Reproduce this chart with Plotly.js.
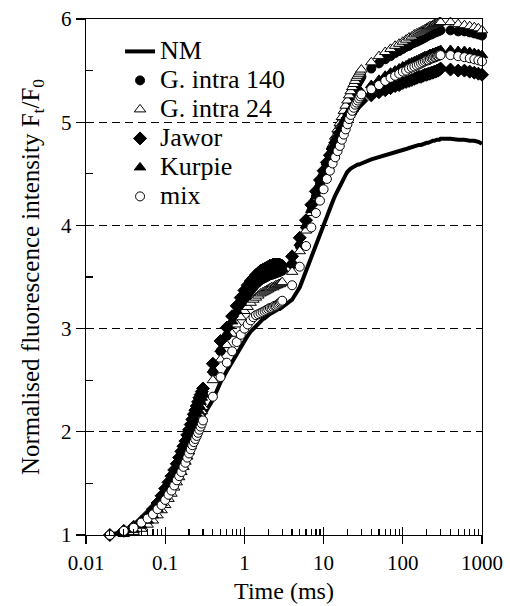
<!DOCTYPE html>
<html>
<head>
<meta charset="utf-8">
<script src="https://cdn.plot.ly/plotly-3.0.1.min.js"></script>
<style>html,body{margin:0;padding:0;background:#fff}</style>
</head>
<body>
<div id="chart" style="width:510px;height:606px"></div>
<script>
var time = [0.02,0.03,0.04,0.05,0.06,0.07,0.08,0.09,0.10,0.11,0.12,0.13,0.14,0.15,0.16,0.17,0.18,0.19,0.20,0.21,0.22,0.23,0.24,0.25,0.26,0.27,0.28,0.29,0.30,
  0.4,0.5,0.6,0.7,0.8,0.9,1.0,1.1,1.2,1.3,1.4,1.5,1.6,1.7,1.8,1.9,2.0,2.1,2.2,2.3,2.4,2.5,2.6,2.7,2.8,2.9,3.0,
  4,5,6,7,8,9,10,11,12,13,14,15,16,17,18,19,20,21,22,23,24,25,26,27,28,29,30,
  40,50,60,70,80,90,100,110,120,130,140,150,160,170,180,190,200,210,220,230,240,250,260,270,280,290,300,
  400,500,600,700,800,900,1000];
var seriesNames = ["NM","G. intra 140","G. intra 24","Jawor","Kurpie","mix"];
var nm = [1.00,1.03,1.06,1.10,1.14,1.19,1.24,1.29,1.34,1.39,1.44,1.49,1.54,1.59,1.64,1.68,1.73,1.77,1.81,1.85,1.89,1.93,1.96,2.00,2.03,2.06,2.09,2.12,2.15,
  2.31,2.48,2.59,2.68,2.76,2.82,2.88,2.93,2.97,3.00,3.03,3.05,3.07,3.09,3.10,3.12,3.13,3.14,3.15,3.16,3.17,3.17,3.18,3.19,3.19,3.20,3.21,
  3.28,3.40,3.56,3.70,3.83,3.93,4.02,4.10,4.17,4.23,4.29,4.34,4.38,4.42,4.46,4.49,4.52,4.54,4.55,4.56,4.57,4.58,4.58,4.59,4.59,4.60,4.60,
  4.64,4.66,4.68,4.69,4.71,4.72,4.73,4.74,4.75,4.76,4.77,4.77,4.78,4.78,4.79,4.79,4.80,4.80,4.81,4.81,4.82,4.82,4.83,4.83,4.83,4.83,4.84,
  4.84,4.83,4.83,4.82,4.82,4.81,4.79];
var gIntra140 = [1.00,1.03,1.07,1.11,1.16,1.22,1.28,1.34,1.40,1.46,1.52,1.58,1.64,1.69,1.75,1.80,1.85,1.90,1.95,2.00,2.05,2.10,2.14,2.18,2.22,2.26,2.30,2.34,2.37,
  2.58,2.78,2.93,3.05,3.14,3.22,3.28,3.33,3.37,3.40,3.43,3.45,3.47,3.48,3.49,3.50,3.51,3.52,3.52,3.53,3.53,3.54,3.54,3.55,3.55,3.56,3.56,
  3.62,3.80,3.98,4.14,4.28,4.40,4.51,4.60,4.68,4.76,4.83,4.89,4.95,5.00,5.05,5.10,5.14,5.18,5.22,5.26,5.29,5.32,5.35,5.38,5.40,5.42,5.44,
  5.52,5.57,5.61,5.64,5.67,5.69,5.71,5.73,5.74,5.76,5.77,5.78,5.79,5.80,5.81,5.82,5.83,5.84,5.85,5.85,5.86,5.87,5.87,5.88,5.88,5.89,5.89,
  5.89,5.88,5.88,5.87,5.86,5.85,5.84];
var gIntra24 = [0.99,1.01,1.03,1.06,1.10,1.14,1.19,1.24,1.29,1.35,1.40,1.46,1.51,1.56,1.61,1.66,1.71,1.76,1.81,1.86,1.91,1.95,2.00,2.04,2.08,2.12,2.16,2.20,2.24,
  2.50,2.70,2.84,2.95,3.04,3.11,3.17,3.21,3.25,3.28,3.30,3.32,3.34,3.35,3.36,3.37,3.38,3.39,3.40,3.40,3.41,3.42,3.42,3.43,3.43,3.44,3.45,
  3.55,3.75,3.95,4.12,4.27,4.40,4.51,4.61,4.70,4.78,4.86,4.93,4.99,5.05,5.11,5.16,5.21,5.26,5.30,5.34,5.37,5.40,5.43,5.45,5.47,5.49,5.51,
  5.58,5.64,5.68,5.71,5.74,5.76,5.78,5.80,5.82,5.83,5.85,5.86,5.87,5.88,5.89,5.90,5.91,5.92,5.93,5.93,5.94,5.95,5.95,5.96,5.96,5.97,5.97,
  5.97,5.95,5.94,5.93,5.92,5.91,5.89];
var jawor = [1.00,1.04,1.08,1.13,1.19,1.25,1.31,1.38,1.45,1.51,1.57,1.63,1.69,1.75,1.81,1.86,1.91,1.97,2.02,2.07,2.12,2.17,2.21,2.25,2.29,2.33,2.36,2.39,2.42,
  2.66,2.88,3.01,3.12,3.22,3.30,3.37,3.42,3.46,3.49,3.52,3.54,3.56,3.57,3.58,3.59,3.60,3.61,3.61,3.62,3.62,3.62,3.62,3.62,3.62,3.61,3.61,
  3.70,3.88,4.05,4.20,4.33,4.44,4.53,4.61,4.68,4.74,4.80,4.85,4.90,4.94,4.98,5.01,5.04,5.07,5.09,5.11,5.13,5.15,5.17,5.18,5.19,5.20,5.21,
  5.26,5.29,5.31,5.33,5.35,5.36,5.38,5.39,5.40,5.41,5.42,5.43,5.44,5.44,5.45,5.46,5.46,5.47,5.47,5.48,5.48,5.49,5.49,5.50,5.50,5.51,5.52,
  5.51,5.50,5.50,5.49,5.48,5.47,5.46];
var kurpie = [0.99,1.02,1.05,1.09,1.14,1.19,1.25,1.31,1.37,1.43,1.49,1.55,1.61,1.67,1.72,1.78,1.83,1.88,1.93,1.98,2.03,2.08,2.12,2.17,2.21,2.25,2.29,2.33,2.36,
  2.60,2.80,2.95,3.07,3.17,3.25,3.31,3.36,3.40,3.43,3.46,3.48,3.50,3.51,3.52,3.53,3.54,3.55,3.55,3.56,3.56,3.57,3.57,3.57,3.58,3.58,3.58,
  3.65,3.83,4.00,4.15,4.28,4.39,4.49,4.57,4.64,4.71,4.77,4.82,4.87,4.92,4.96,5.00,5.04,5.07,5.10,5.13,5.16,5.19,5.21,5.23,5.25,5.27,5.29,
  5.36,5.41,5.45,5.48,5.50,5.52,5.54,5.55,5.57,5.58,5.59,5.60,5.61,5.62,5.63,5.64,5.64,5.65,5.66,5.66,5.67,5.67,5.68,5.68,5.69,5.69,5.70,
  5.70,5.69,5.69,5.68,5.67,5.66,5.65];
var mix = [1.00,1.04,1.07,1.12,1.16,1.20,1.25,1.29,1.34,1.39,1.43,1.48,1.53,1.57,1.61,1.66,1.70,1.75,1.79,1.83,1.87,1.90,1.93,1.96,1.99,2.02,2.05,2.08,2.11,
  2.34,2.53,2.67,2.78,2.87,2.94,3.00,3.04,3.08,3.11,3.13,3.14,3.15,3.16,3.17,3.18,3.19,3.20,3.20,3.21,3.22,3.22,3.23,3.24,3.25,3.26,3.27,
  3.42,3.60,3.80,3.98,4.12,4.24,4.35,4.45,4.53,4.60,4.66,4.72,4.77,4.83,4.88,4.93,4.98,5.03,5.07,5.11,5.14,5.17,5.19,5.21,5.23,5.25,5.27,
  5.32,5.36,5.40,5.43,5.45,5.47,5.49,5.50,5.52,5.53,5.54,5.55,5.56,5.57,5.58,5.59,5.60,5.60,5.61,5.62,5.62,5.63,5.63,5.64,5.64,5.65,5.65,
  5.65,5.64,5.63,5.62,5.61,5.60,5.59];

var xTickVals = [0.01,0.1,1,10,100,1000];
var xTickText = ["0.01","0.1","1","10","100","1000"];
var yTickVals = [1,2,3,4,5,6];
var yTickText = ["1","2","3","4","5","6"];
var yMinorVals = [1.5,2.5,3.5,4.5,5.5];
var xMinorVals = [];
[0.01,0.1,1,10,100].forEach(function(d){ for (var k=2;k<=9;k++) xMinorVals.push(+(k*d).toPrecision(3)); });

var FONT = "Tinos";
function lg(s){ return '<span style="font-size:26px">' + s + '</span>'; }

var traces = [
  {x: time, y: nm, name: lg(seriesNames[0]), mode: "lines", line: {color: "#000", width: 4}, cliponaxis: false},
  {x: time, y: gIntra140, name: lg(seriesNames[1]), mode: "markers", cliponaxis: false,
   marker: {symbol: "circle", size: 9, color: "#000", line: {color: "#000", width: 1}}},
  {x: time, y: gIntra24, name: lg(seriesNames[2]), mode: "markers", cliponaxis: false,
   marker: {symbol: "triangle-up", size: 10, color: "#fff", line: {color: "#000", width: 1}}},
  {x: time, y: jawor, name: lg(seriesNames[3]), mode: "markers", cliponaxis: false,
   marker: {symbol: "diamond", size: 10, color: "#000", line: {color: "#000", width: 1}}},
  {x: time, y: kurpie, name: lg(seriesNames[4]), mode: "markers", cliponaxis: false,
   marker: {symbol: "triangle-up", size: 10, color: "#000", line: {color: "#000", width: 1}}},
  {x: time, y: mix, name: lg(seriesNames[5]), mode: "markers", cliponaxis: false,
   marker: {symbol: "circle", size: 9, color: "#fff", line: {color: "#000", width: 1}}},
  {x: [], y: [], xaxis: "x2", yaxis: "y2", mode: "markers", showlegend: false, hoverinfo: "skip"},
  {x: [], y: [], xaxis: "x3", yaxis: "y3", mode: "markers", showlegend: false, hoverinfo: "skip"}
];

var tickAxisBase = {showline: false, showgrid: false, zeroline: false, showticklabels: false,
  tickcolor: "#000", tickwidth: 1.2, fixedrange: true};

var layout = {
  width: 510, height: 606,
  margin: {l: 86, r: 28, t: 19, b: 71, pad: 0},
  paper_bgcolor: "#fff", plot_bgcolor: "#fff",
  font: {family: FONT, color: "#000"},
  showlegend: true,
  legend: {x: 0.086, xanchor: "left", y: 0.975, yanchor: "top", bgcolor: "rgba(0,0,0,0)",
    font: {family: FONT, size: 20, color: "#000"}, tracegroupgap: 0},
  xaxis: {type: "log", range: [-2, 3], tickmode: "array", tickvals: xTickVals, ticktext: xTickText,
    ticks: "outside", ticklen: 8, tickwidth: 1.2, tickcolor: "#000",
    showline: true, linecolor: "#000", linewidth: 1.3, mirror: true,
    showgrid: false, zeroline: false,
    tickfont: {family: FONT, size: 21, color: "#000"},
    title: {text: "Time (ms)", font: {family: FONT, size: 24, color: "#000"}, standoff: 8}},
  yaxis: {range: [1, 6], tickmode: "array", tickvals: yTickVals, ticktext: yTickText,
    ticks: "outside", ticklen: 9, tickwidth: 1.2, tickcolor: "#000",
    showline: true, linecolor: "#000", linewidth: 1.3, mirror: true,
    showgrid: true, gridcolor: "#000", gridwidth: 1, griddash: "8px,5px", zeroline: false,
    tickfont: {family: FONT, size: 21, color: "#000"},
    title: {text: "Normalised fluorescence intensity F<sub>t</sub>/F<sub>0</sub>",
      font: {family: FONT, size: 25, color: "#000"}, standoff: 14}},
  xaxis2: Object.assign({type: "log", range: [-2, 3], overlaying: "x", anchor: "y2", side: "bottom",
    tickmode: "array", tickvals: xTickVals, ticks: "inside", ticklen: 8}, tickAxisBase),
  yaxis2: Object.assign({range: [1, 6], overlaying: "y", anchor: "x2", side: "left",
    tickmode: "array", tickvals: yTickVals, ticks: "inside", ticklen: 8}, tickAxisBase),
  xaxis3: Object.assign({type: "log", range: [-2, 3], overlaying: "x", anchor: "y3", side: "bottom",
    tickmode: "array", tickvals: xMinorVals, ticks: "inside", ticklen: 6}, tickAxisBase),
  yaxis3: Object.assign({range: [1, 6], overlaying: "y", anchor: "x3", side: "left",
    tickmode: "array", tickvals: yMinorVals, ticks: "inside", ticklen: 7}, tickAxisBase),
  shapes: [{type: "rect", xref: "paper", yref: "paper", x0: 0.025, x1: 0.566, y0: 0.627, y1: 0.983,
    fillcolor: "#fff", line: {width: 0}, layer: "between"}]
};

Plotly.newPlot("chart", traces, layout, {displayModeBar: false, staticPlot: true});
</script>
</body>
</html>
